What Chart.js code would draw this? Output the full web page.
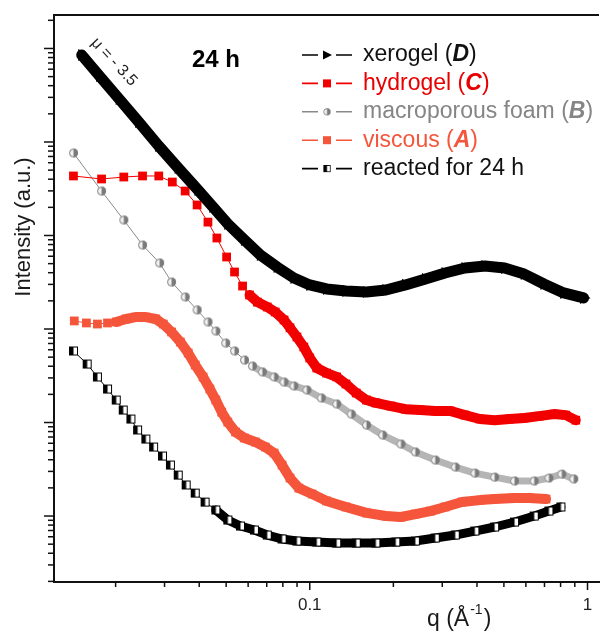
<!DOCTYPE html>
<html>
<head>
<meta charset="utf-8">
<script src="https://cdn.jsdelivr.net/npm/chart.js@4.4.1/dist/chart.umd.min.js"></script>
<style>
  body { margin: 0; background: #fff; }
  canvas { display: block; }
</style>
</head>
<body>
<canvas id="saxs" width="606" height="634"></canvas>
<script>
// SAXS curves, q in 1/Å, intensity in arbitrary units
const qXerogel = [0.0151, 0.0175, 0.0206, 0.0242, 0.0286, 0.0336, 0.0396, 0.0448, 0.0507, 0.0582, 0.0664, 0.0763, 0.0877, 0.100, 0.115, 0.135, 0.160, 0.188, 0.221, 0.261, 0.307, 0.362, 0.427, 0.503, 0.592, 0.697, 0.821, 0.968];
const iXerogel = [85100, 50800, 28800, 16400, 9060, 5270, 3070, 2020, 1330, 895, 618, 460, 351, 296, 268, 255, 249, 261, 296, 343, 397, 449, 472, 449, 387, 303, 243, 215];

const qHydrogel = [0.0141, 0.0178, 0.0214, 0.0250, 0.0286, 0.0320, 0.0356, 0.0393, 0.0430, 0.0463, 0.0502, 0.0536, 0.0573, 0.0607, 0.0648, 0.0703, 0.0751, 0.0808, 0.0849, 0.0899, 0.0952, 0.100, 0.106, 0.115, 0.125, 0.135, 0.147, 0.160, 0.173, 0.196, 0.221, 0.250, 0.283, 0.320, 0.362, 0.410, 0.463, 0.524, 0.592, 0.669, 0.757, 0.835, 0.907];
const iHydrogel = [4330, 4020, 4220, 4330, 4330, 3730, 2990, 2120, 1390, 940, 589, 407, 288, 231, 194, 172, 152, 125, 103, 82.1, 64.2, 49.0, 38.3, 33.8, 30.7, 25.8, 20.7, 17.4, 16.2, 15.0, 13.9, 13.6, 13.3, 13.3, 12.0, 10.9, 10.6, 10.9, 11.2, 11.7, 12.3, 12.0, 10.6];

const qFoam = [0.0141, 0.0178, 0.0214, 0.0250, 0.0288, 0.0318, 0.0356, 0.0393, 0.0430, 0.0459, 0.0498, 0.0536, 0.0582, 0.0622, 0.0675, 0.0744, 0.0808, 0.0877, 0.0976, 0.110, 0.125, 0.141, 0.160, 0.183, 0.213, 0.240, 0.283, 0.334, 0.393, 0.463, 0.546, 0.643, 0.726, 0.808, 0.892];
const iFoam = [7630, 2990, 1465, 791, 508, 318, 220, 160, 119, 95.2, 70.8, 58.2, 46.6, 40.2, 34.7, 30.7, 27.1, 24.6, 22.3, 18.3, 15.8, 12.3, 9.40, 7.35, 5.89, 4.84, 3.97, 3.34, 2.88, 2.61, 2.37, 2.37, 2.55, 2.81, 2.49];

const qViscous = [0.0142, 0.0157, 0.0172, 0.0187, 0.0201, 0.0218, 0.0236, 0.0257, 0.0279, 0.0297, 0.0318, 0.0342, 0.0365, 0.0387, 0.0413, 0.0437, 0.0459, 0.0482, 0.0507, 0.0541, 0.0582, 0.0637, 0.0692, 0.0744, 0.0795, 0.0849, 0.0914, 0.102, 0.115, 0.135, 0.160, 0.188, 0.213, 0.240, 0.272, 0.307, 0.353, 0.410, 0.463, 0.546, 0.617, 0.709];
const iViscous = [122, 116, 113, 116, 119, 128, 134, 134, 128, 113, 92.9, 72.6, 55.4, 41.2, 30.7, 22.8, 17.4, 12.9, 10.1, 7.91, 6.83, 6.19, 5.47, 4.72, 3.51, 2.55, 1.99, 1.72, 1.45, 1.25, 1.08, 1.00, 0.976, 1.05, 1.13, 1.25, 1.41, 1.48, 1.52, 1.56, 1.56, 1.52];

const qReacted = [0.0141, 0.0158, 0.0172, 0.0187, 0.0201, 0.0213, 0.0227, 0.0240, 0.0257, 0.0274, 0.0295, 0.0315, 0.0336, 0.0359, 0.0387, 0.0420, 0.0459, 0.0507, 0.0563, 0.0632, 0.0703, 0.0795, 0.0899, 0.106, 0.125, 0.147, 0.173, 0.204, 0.240, 0.283, 0.334, 0.393, 0.463, 0.546, 0.643, 0.726, 0.802];
const iReacted = [58.2, 42.2, 30.7, 22.8, 17.4, 13.6, 10.9, 8.32, 6.66, 5.47, 4.38, 3.51, 2.74, 2.15, 1.76, 1.41, 1.16, 0.906, 0.782, 0.708, 0.626, 0.568, 0.540, 0.527, 0.514, 0.514, 0.514, 0.527, 0.540, 0.582, 0.626, 0.691, 0.763, 0.863, 1.00, 1.13, 1.25];

const xTicks = [0.02, 0.03, 0.04, 0.05, 0.06, 0.07, 0.08, 0.09, 0.1, 0.2, 0.3, 0.4, 0.5, 0.6, 0.7, 0.8, 0.9, 1];
const xLabelValues = [0.1, 1];
const xLabelText = ['0.1', '1'];
const yDecades = [-1, 0, 1, 2, 3, 4, 5];

const X_MIN = 0.012, X_MAX = 1.10;
const Y_MIN = 0.197, Y_MAX = 2.28e5;

const FONT = "'Liberation Sans', Arial, Helvetica, sans-serif";
const ORANGE = '#f5553a';

function zip(qs, is) {
  return qs.map((q, k) => ({ x: q, y: is[k] }));
}

// half-filled marker images
function halfCircle(r, dark, light) {
  const s = Math.ceil(r * 2 + 2);
  const c = document.createElement('canvas');
  c.width = c.height = s;
  const g = c.getContext('2d');
  const m = s / 2;
  g.beginPath(); g.arc(m, m, r, 0, Math.PI * 2); g.fillStyle = light; g.fill();
  g.beginPath(); g.moveTo(m, m - r); g.arc(m, m, r, -Math.PI / 2, Math.PI / 2); g.closePath();
  g.fillStyle = dark; g.fill();
  g.beginPath(); g.arc(m, m, r - 0.5, 0, Math.PI * 2); g.lineWidth = 1; g.strokeStyle = dark; g.stroke();
  return c;
}

function halfSquare(h, dark) {
  const s = Math.ceil(h * 2 + 2);
  const c = document.createElement('canvas');
  c.width = c.height = s;
  const g = c.getContext('2d');
  const o = (s - 2 * h) / 2;
  g.fillStyle = '#fff'; g.fillRect(o, o, 2 * h, 2 * h);
  g.fillStyle = dark; g.fillRect(o, o, h, 2 * h);
  g.lineWidth = 1; g.strokeStyle = dark; g.strokeRect(o + 0.5, o + 0.5, 2 * h - 1, 2 * h - 1);
  return c;
}

const foamDot = halfCircle(4.5, '#7a7a7a', '#f2f2f2');
const reactedDot = halfSquare(4.5, '#000');

// line width: thin between sparse points, a solid band where markers pile up
function series(label, data, o) {
  return {
    label: label,
    data: data,
    borderColor: o.color,
    backgroundColor: o.color,
    pointStyle: o.pointStyle,
    pointRotation: o.rotation || 0,
    pointRadius: o.radius,
    pointBackgroundColor: o.color,
    pointBorderWidth: 0,
    borderWidth: 1,
    borderJoinStyle: 'round',
    borderCapStyle: 'round',
    textColor: o.text,
    segment: {
      borderWidth: c => c.p0.parsed.x >= o.denseFrom ? o.band : 1,
      borderColor: c => c.p0.parsed.x >= o.denseFrom ? (o.bandColor || o.color) : o.color
    }
  };
}

const datasets = [
  series('xerogel (D)', zip(qXerogel, iXerogel),
    { color: '#000', text: '#111', pointStyle: 'triangle', rotation: 90, radius: 7, denseFrom: 0, band: 11 }),
  series('hydrogel (C)', zip(qHydrogel, iHydrogel),
    { color: '#f20000', text: '#e80000', pointStyle: 'rect', radius: 6.2, denseFrom: 0.06, band: 10 }),
  series('macroporous foam (B)', zip(qFoam, iFoam),
    { color: '#8a8a8a', text: '#858585', pointStyle: foamDot, radius: 4.5, denseFrom: 0.06, band: 7, bandColor: '#b5b5b5' }),
  series('viscous (A)', zip(qViscous, iViscous),
    { color: ORANGE, text: ORANGE, pointStyle: 'rect', radius: 6.2, denseFrom: 0.0195, band: 10 }),
  series('reacted for 24 h', zip(qReacted, iReacted),
    { color: '#000', text: '#111', pointStyle: reactedDot, radius: 4.5, denseFrom: 0.044, band: 9 })
];

function isDecade(v) {
  const l = Math.log10(v);
  return Math.abs(l - Math.round(l)) < 1e-6;
}

function legendMarker(ctx, ds, x, y) {
  const ps = ds.pointStyle;
  ctx.fillStyle = ds.borderColor;
  if (ps === 'triangle') {
    ctx.beginPath();
    ctx.moveTo(x - 4, y - 4.5); ctx.lineTo(x + 5, y); ctx.lineTo(x - 4, y + 4.5);
    ctx.closePath(); ctx.fill();
  } else if (ps === 'rect') {
    ctx.fillRect(x - 4, y - 4, 8, 8);
  } else {
    const w = ps.width * 0.8;
    ctx.drawImage(ps, x - w / 2, y - w / 2, w, w);
  }
}

function drawParts(ctx, parts, x, y) {
  parts.forEach(p => {
    ctx.font = p[1];
    ctx.fillText(p[0], x, y);
    x += ctx.measureText(p[0]).width;
  });
}

const decorations = {
  id: 'decorations',
  afterDraw(chart) {
    const { ctx, chartArea: a } = chart;
    const xs = chart.scales.x, ys = chart.scales.y;
    ctx.save();

    // frame top
    ctx.strokeStyle = '#111';
    ctx.lineWidth = 2;
    ctx.beginPath(); ctx.moveTo(a.left - 1, a.top); ctx.lineTo(a.right, a.top); ctx.stroke();

    // tick marks, longer on decades
    ctx.lineWidth = 1.5;
    xs.ticks.forEach(t => {
      const px = xs.getPixelForValue(t.value);
      const len = isDecade(t.value) ? 8 : 5;
      ctx.beginPath(); ctx.moveTo(px, a.bottom); ctx.lineTo(px, a.bottom + len); ctx.stroke();
    });
    ys.ticks.forEach(t => {
      const py = ys.getPixelForValue(t.value);
      const len = isDecade(t.value) ? 10 : 6;
      ctx.beginPath(); ctx.moveTo(a.left, py); ctx.lineTo(a.left - len, py); ctx.stroke();
    });

    // tick labels
    ctx.fillStyle = '#222';
    ctx.font = '17px ' + FONT;
    ctx.textAlign = 'center';
    ctx.textBaseline = 'middle';
    xLabelValues.forEach((v, k) => ctx.fillText(xLabelText[k], xs.getPixelForValue(v), 605));

    // axis titles
    ctx.textBaseline = 'alphabetic';
    ctx.textAlign = 'left';
    ctx.fillStyle = '#1a1a1a';
    ctx.font = '23px ' + FONT;
    ctx.fillText('q (Å', 427, 626);
    let tx = 427 + ctx.measureText('q (Å').width;
    ctx.font = '14px ' + FONT;
    ctx.fillText('-1', tx + 1, 614);
    tx += ctx.measureText('-1').width + 2;
    ctx.font = '23px ' + FONT;
    ctx.fillText(')', tx, 626);

    ctx.save();
    ctx.translate(30, 227);
    ctx.rotate(-Math.PI / 2);
    ctx.textAlign = 'center';
    ctx.font = '22px ' + FONT;
    ctx.fillText('Intensity (a.u.)', 0, 0);
    ctx.restore();

    // sample time and power-law slope
    ctx.fillStyle = '#000';
    ctx.font = 'bold 24px ' + FONT;
    ctx.fillText('24 h', 192, 67);

    ctx.save();
    ctx.translate(114, 62);
    ctx.rotate(47 * Math.PI / 180);
    ctx.textAlign = 'center';
    ctx.textBaseline = 'middle';
    ctx.font = '16px ' + FONT;
    ctx.fillStyle = '#222';
    ctx.fillText('μ = - 3.5', 0, 0);
    ctx.restore();

    // legend
    chart.data.datasets.forEach((ds, k) => {
      const y = 55 + k * 28.4;
      ctx.strokeStyle = ds.borderColor;
      ctx.lineWidth = 1.6;
      ctx.beginPath();
      ctx.moveTo(302, y); ctx.lineTo(318, y);
      ctx.moveTo(336, y); ctx.lineTo(352, y);
      ctx.stroke();
      legendMarker(ctx, ds, 327, y);

      ctx.fillStyle = ds.textColor;
      ctx.textAlign = 'left';
      ctx.textBaseline = 'middle';
      const m = ds.label.match(/^(.*\()(\w)(\))$/);
      const base = '23px ' + FONT;
      if (m) {
        drawParts(ctx, [[m[1], base], [m[2], 'italic bold 23px ' + FONT], [m[3], base]], 363, y);
      } else {
        drawParts(ctx, [[ds.label, base]], 363, y);
      }
    });

    ctx.restore();
  }
};

const yTicks = [];
yDecades.forEach(e => {
  for (let m = 1; m <= 9; m++) {
    const v = m * Math.pow(10, e);
    if (v >= Y_MIN && v <= Y_MAX) yTicks.push(v);
  }
});

Chart.defaults.font.family = FONT;

new Chart(document.getElementById('saxs'), {
  type: 'line',
  data: { datasets: datasets },
  options: {
    responsive: false,
    animation: false,
    events: [],
    parsing: false,
    layout: { padding: { top: 15, right: 0, bottom: 0, left: 0 } },
    plugins: {
      legend: { display: false },
      tooltip: { enabled: false }
    },
    scales: {
      x: {
        type: 'logarithmic',
        min: X_MIN,
        max: X_MAX,
        grid: { display: false },
        border: { display: true, color: '#111', width: 2 },
        ticks: { display: false },
        afterBuildTicks: s => { s.ticks = xTicks.map(v => ({ value: v })); },
        afterFit: s => { s.height = 52; }
      },
      y: {
        type: 'logarithmic',
        min: Y_MIN,
        max: Y_MAX,
        grid: { display: false },
        border: { display: true, color: '#111', width: 2 },
        ticks: { display: false },
        afterBuildTicks: s => { s.ticks = yTicks.map(v => ({ value: v })); },
        afterFit: s => { s.width = 54; }
      }
    }
  },
  plugins: [decorations]
});
</script>
</body>
</html>
